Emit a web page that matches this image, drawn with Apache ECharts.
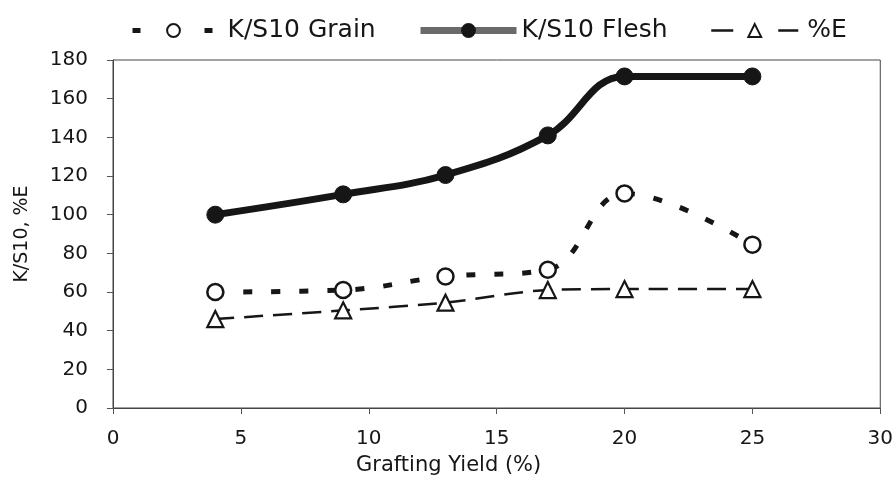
<!DOCTYPE html>
<html>
<head>
    <meta charset="utf-8" />
    <title>K/S10 vs Grafting Yield</title>
    <script src="https://cdn.jsdelivr.net/npm/echarts@6/dist/echarts.min.js"></script>
</head>
<body style="margin:0;">
    <div id="main" style="width: 896px;height:481px;"></div>
    <script type="text/javascript">
        // data
        var yieldX = [4, 9, 13, 17, 20, 25];
        var grain = [60, 61, 68, 71.5, 111, 84.5];
        var flesh = [100, 110.5, 120.5, 141, 171.5, 171.5];
        var pctE = [46, 50.5, 54.5, 61, 61.5, 61.5];
        var names = ['K/S10 Grain', 'K/S10 Flesh', '%E'];

        function pairs(ys) {
            return yieldX.map(function (x, i) { return [x, ys[i]]; });
        }

        var myChart = echarts.init(document.getElementById("main"));
        var font = "DejaVu Sans, sans-serif";
        var ink = '#161616';

        // one legend per series so each icon can have its own width / spacing
        function legendFor(name, left, width, padLeft, lineStyle) {
            return {
                top: 13,
                left: left,
                itemWidth: width,
                itemHeight: 16,
                textStyle: { fontSize: 25, color: ink, fontFamily: font, padding: [0, 0, 0, padLeft] },
                data: [{ name: name, lineStyle: lineStyle }]
            };
        }

        var option = {
            animation: false,
            textStyle: { fontFamily: font, color: ink },
            legend: [
                legendFor(names[0], 125, 82, 8, { type: [8, 64], width: 5, color: ink }),
                legendFor(names[1], 412, 96, 0, { type: 'solid', width: 7, color: '#6a6a6a' }),
                legendFor(names[2], 705, 87, 4, { type: [22, 45], width: 2.5, color: ink })
            ],
            grid: {
                left: 113,
                right: 14,
                top: 60,
                bottom: 71,
                show: true,
                borderColor: '#444',
                borderWidth: 1
            },
            xAxis: {
                type: 'value',
                min: 0,
                max: 30,
                interval: 5,
                name: 'Grafting Yield (%)',
                nameLocation: 'middle',
                nameGap: 47,
                nameTextStyle: { fontSize: 21, color: ink, padding: [0, 96, 0, 0] },
                axisLine: { lineStyle: { color: '#444' } },
                axisTick: { show: true, length: 6, lineStyle: { color: '#555' } },
                axisLabel: { fontSize: 20, color: ink, margin: 21 },
                splitLine: { show: false }
            },
            yAxis: {
                type: 'value',
                min: 0,
                max: 180,
                interval: 20,
                name: 'K/S10, %E',
                nameLocation: 'middle',
                nameGap: 81,
                nameTextStyle: { fontSize: 19, color: ink },
                axisLine: { show: true, lineStyle: { color: '#444' } },
                axisTick: { show: true, length: 6, lineStyle: { color: '#555' } },
                axisLabel: { fontSize: 20, color: ink, margin: 25 },
                splitLine: { show: false }
            },
            series: [
                {
                    name: names[0],
                    type: 'line',
                    smooth: 0.4,
                    data: pairs(grain),
                    symbol: 'circle',
                    symbolSize: 16,
                    itemStyle: { color: '#fff', borderColor: ink, borderWidth: 2.5 },
                    lineStyle: { color: ink, width: 5, type: [9, 19] }
                },
                {
                    name: names[1],
                    type: 'line',
                    smooth: 0.4,
                    data: pairs(flesh),
                    symbol: 'circle',
                    symbolSize: 17,
                    itemStyle: { color: ink, borderColor: ink, borderWidth: 1 },
                    lineStyle: { color: ink, width: 7 }
                },
                {
                    name: names[2],
                    type: 'line',
                    smooth: 0.3,
                    data: pairs(pctE),
                    symbol: 'triangle',
                    symbolSize: 16,
                    itemStyle: { color: '#fff', borderColor: ink, borderWidth: 2.2 },
                    lineStyle: { color: ink, width: 2.5, type: [19, 10] }
                }
            ]
        };
        myChart.setOption(option);
    </script>
</body>
</html>
